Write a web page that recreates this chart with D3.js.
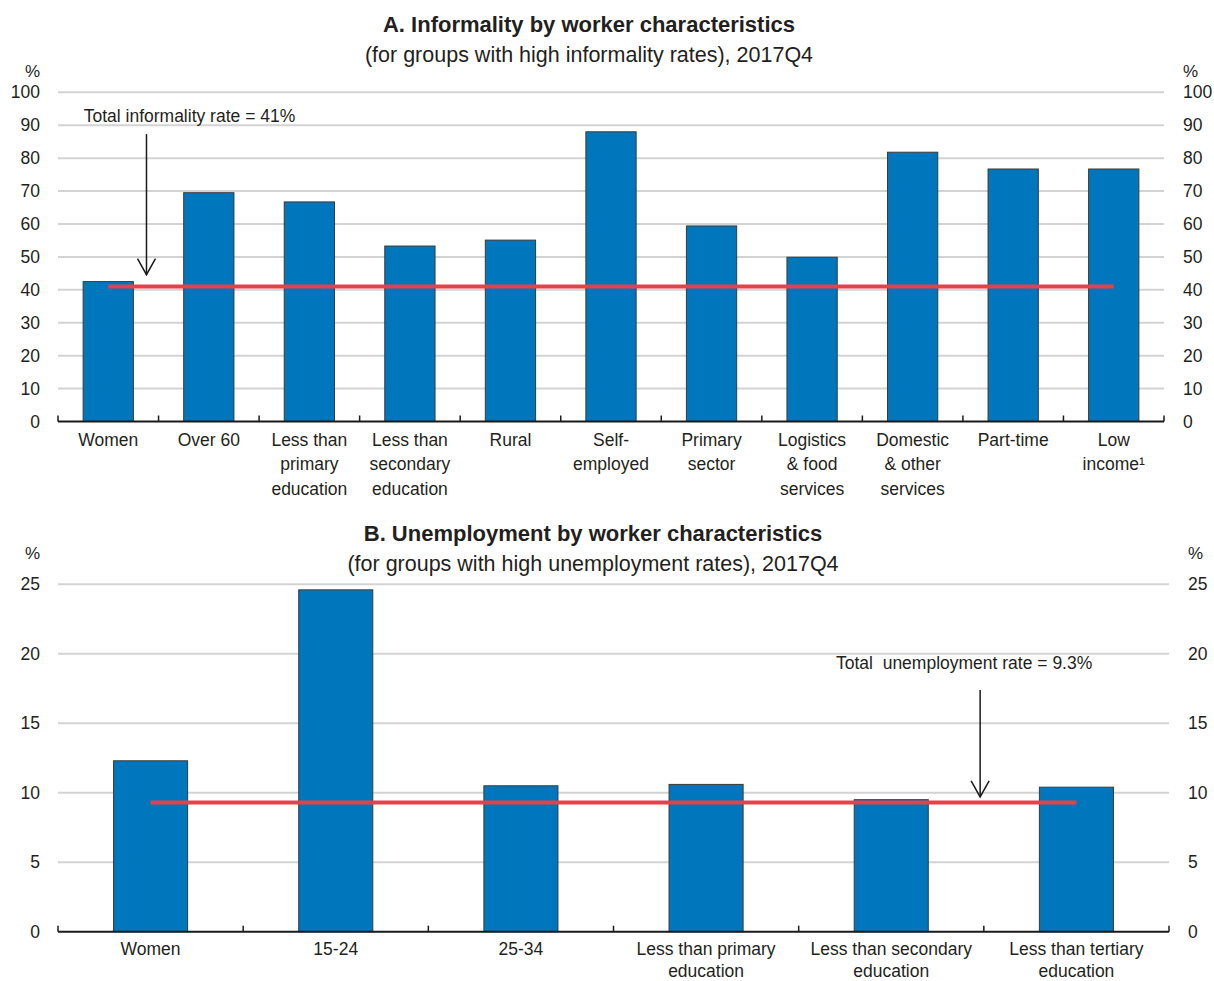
<!DOCTYPE html>
<html>
<head>
<meta charset="utf-8">
<script src="https://cdn.jsdelivr.net/npm/d3@7"></script>
<style>
  body { margin: 0; background: #fff; }
  svg text { font-family: "Liberation Sans Narrow", "Arial Narrow", "Liberation Sans", sans-serif; fill: #231f20; }
</style>
</head>
<body>
<svg id="chart" width="1214" height="981"></svg>
<script>
// Panel A: informality
const catsA = ["Women", "Over 60", "Less than\nprimary\neducation", "Less than\nsecondary\neducation", "Rural",
    "Self-\nemployed", "Primary\nsector", "Logistics\n& food\nservices", "Domestic\n& other\nservices", "Part-time", "Low\nincome\u00b9"];
const valsA = [42.5, 69.5, 66.7, 53.3, 55.1, 88.0, 59.4, 49.9, 81.8, 76.7, 76.7];
const totalA = 41;
const ticksA = [0, 10, 20, 30, 40, 50, 60, 70, 80, 90, 100];

// Panel B: unemployment
const catsB = ["Women", "15-24", "25-34", "Less than primary\neducation", "Less than secondary\neducation", "Less than tertiary\neducation"];
const valsB = [12.3, 24.6, 10.5, 10.6, 9.5, 10.4];
const totalB = 9.3;
const ticksB = [0, 5, 10, 15, 20, 25];

const svg = d3.select("#chart");
const barColor = "#0077bd";
const redColor = "#e8404a";
const gridColor = "#d3d3d3";
let fontSize = 17.5;

function drawPanel(p) {
    let x = d3.scaleBand().domain(p.cats).range([p.x0, p.x1])
        .paddingInner(p.padIn).paddingOuter(p.padOut);
    let y = d3.scaleLinear().domain([0, p.max]).range([p.yZero, p.yTop]);

    // titles
    svg.append("text")
        .attr("x", p.titleX).attr("y", p.titleY)
        .attr("text-anchor", "middle")
        .style("font-size", "22px").style("font-weight", "bold")
        .text(p.title);
    svg.append("text")
        .attr("x", p.titleX).attr("y", p.titleY + 30)
        .attr("text-anchor", "middle")
        .style("font-size", "21.5px")
        .text(p.subtitle);

    // gridlines
    svg.append("g").selectAll("line")
        .data(p.ticks.filter(d => d > 0))
        .join("line")
        .attr("x1", p.x0).attr("x2", p.x1)
        .attr("y1", d => y(d)).attr("y2", d => y(d))
        .style("stroke", gridColor).style("stroke-width", 2);

    // left and right axes (labels only)
    let left = svg.append("g").attr("transform", "translate(" + (p.x0 - 18) + ",0)")
        .call(d3.axisLeft(y).tickValues(p.ticks).tickSize(0).tickPadding(0));
    let right = svg.append("g").attr("transform", "translate(" + (p.x1 + 19) + ",0)")
        .call(d3.axisRight(y).tickValues(p.ticks).tickSize(0).tickPadding(0));
    [left, right].forEach(g => {
        g.select(".domain").remove();
        g.selectAll("text").style("font-size", fontSize + "px").attr("fill", "#231f20");
    });
    right.selectAll("text").attr("x", 0);

    svg.append("text").attr("x", p.x0 - 33).attr("y", p.pctY)
        .style("font-size", "17px").text("%");
    svg.append("text").attr("x", p.x1 + 19).attr("y", p.pctY)
        .style("font-size", "17px").text("%");

    // bars
    svg.append("g").selectAll("rect")
        .data(p.vals)
        .join("rect")
        .attr("x", (d, i) => x(p.cats[i]))
        .attr("y", d => y(d))
        .attr("width", x.bandwidth())
        .attr("height", d => y(0) - y(d))
        .attr("fill", barColor)
        .style("stroke", "#3a3a3a")
        .style("stroke-width", 1);

    // total line
    svg.append("line")
        .attr("x1", x(p.cats[0]) + x.bandwidth() / 2)
        .attr("x2", x(p.cats[p.cats.length - 1]) + x.bandwidth() / 2)
        .attr("y1", y(p.total)).attr("y2", y(p.total))
        .style("stroke", redColor).style("stroke-width", 4);

    // x axis line with inward ticks at band edges
    svg.append("line")
        .attr("x1", p.x0).attr("x2", p.x1)
        .attr("y1", y(0)).attr("y2", y(0))
        .style("stroke", "#1a1a1a").style("stroke-width", 2);
    let edges = d3.range(p.cats.length + 1).map(i => p.x0 + i * (p.x1 - p.x0) / p.cats.length);
    svg.append("g").selectAll("line")
        .data(edges)
        .join("line")
        .attr("x1", d => d).attr("x2", d => d)
        .attr("y1", y(0)).attr("y2", y(0) - 6)
        .style("stroke", "#1a1a1a").style("stroke-width", 1.5);

    // category labels
    p.cats.forEach(c => {
        let t = svg.append("text")
            .attr("x", x(c) + x.bandwidth() / 2)
            .attr("y", y(0) + p.labelGap)
            .attr("text-anchor", "middle")
            .style("font-size", fontSize + "px");
        c.split("\n").forEach((line, j) => {
            t.append("tspan")
                .attr("x", x(c) + x.bandwidth() / 2)
                .attr("dy", j == 0 ? 0 : p.lineH)
                .text(line);
        });
    });

    // annotation with arrow
    let ax = x(p.cats[p.arrowCat]) + x.bandwidth() / 2 + x.step() * p.arrowShift;
    svg.append("text")
        .attr("x", ax + p.noteShift).attr("y", y(p.noteVal))
        .attr("text-anchor", "middle")
        .style("font-size", "17.5px")
        .style("white-space", "pre")
        .text(p.note);
    svg.append("line")
        .attr("x1", ax).attr("x2", ax)
        .attr("y1", y(p.arrowFrom)).attr("y2", y(p.arrowTo))
        .style("stroke", "#1a1a1a").style("stroke-width", 1.5);
    svg.append("path")
        .attr("d", "M" + (ax - 9) + "," + (y(p.arrowTo) - 16) + "L" + ax + "," + y(p.arrowTo) + "L" + (ax + 9) + "," + (y(p.arrowTo) - 16))
        .attr("fill", "none")
        .style("stroke", "#1a1a1a").style("stroke-width", 1.5);
}

drawPanel({
    cats: catsA, vals: valsA, total: totalA, ticks: ticksA, max: 100,
    x0: 58, x1: 1164, padIn: 0.5, padOut: 0.25,
    yZero: 421.5, yTop: 92.3,
    title: "A. Informality by worker characteristics",
    subtitle: "(for groups with high informality rates), 2017Q4",
    titleX: 589, titleY: 32, pctY: 77, labelGap: 24, lineH: 24.5,
    note: "Total informality rate = 41%", noteVal: 91, noteShift: 43,
    arrowCat: 0, arrowShift: 0.38, arrowFrom: 87.3, arrowTo: 44.6
});

drawPanel({
    cats: catsB, vals: valsB, total: totalB, ticks: ticksB, max: 25,
    x0: 58, x1: 1169, padIn: 0.6, padOut: 0.3,
    yZero: 931.7, yTop: 584.3,
    title: "B. Unemployment by worker characteristics",
    subtitle: "(for groups with high unemployment rates), 2017Q4",
    titleX: 593, titleY: 541, pctY: 559, labelGap: 23, lineH: 22,
    note: "Total  unemployment rate = 9.3%", noteVal: 18.9, noteShift: -16,
    arrowCat: 4, arrowShift: 0.48, arrowFrom: 17.4, arrowTo: 9.7
});
</script>
</body>
</html>
